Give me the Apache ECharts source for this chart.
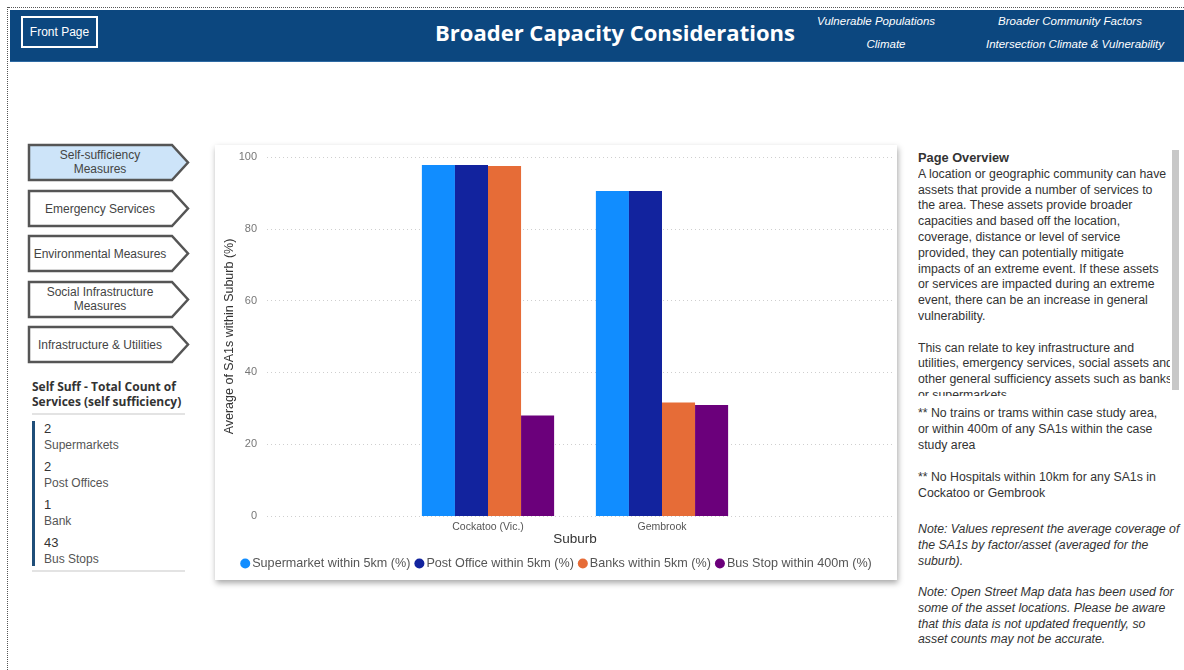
<!DOCTYPE html>
<html>
<head>
<meta charset="utf-8">
<script src="https://cdn.jsdelivr.net/npm/echarts@6/dist/echarts.min.js"></script>
<style>
  html, body { margin:0; padding:0; width:1184px; height:670px; overflow:hidden; background:#fff; font-family:"Liberation Sans", "Noto Sans", sans-serif; }
  .abs { position:absolute; }
  #frameTop { left:8px; top:7px; width:1176px; height:0; border-top:1px dotted #555; }
  #frameLeft { left:7px; top:7px; width:0; height:663px; border-left:1px dotted #555; }
  #header { left:10px; top:10px; width:1174px; height:51px; background:#0c477f; border-bottom:1px solid #2d6aa3; }
  #front { left:21px; top:16px; width:73px; height:28px; border:2px solid #fff; color:#fff; font-size:12px; line-height:28px; text-align:center; }
  #title { left:390px; top:17px; width:450px; text-align:center; color:#fff; font-size:22px; font-weight:bold; font-family:"Open Sans","Noto Sans",sans-serif; }
  .nav { color:#fff; font-size:11.5px; font-style:italic; text-align:center; white-space:nowrap; }
  #chartCard { left:215px; top:145px; width:682px; height:435px; background:#fff; box-shadow:1px 3px 6px rgba(0,0,0,0.35); }
  #chart { left:215px; top:145px; width:682px; height:435px; }
  .btnText { color:#444; font-size:12px; text-align:center; width:144px; left:28px; line-height:14px; }
  #ssTitle { left:32px; top:379px; color:#333; font-size:12px; font-weight:bold; font-family:"Open Sans","Noto Sans",sans-serif; line-height:15px; white-space:nowrap; }
  .rule { height:0; border-top:2px solid #e3e3e3; left:32px; width:153px; }
  #ssBar { left:32px; top:421px; width:3px; height:145px; background:#1f4e79; }
  .ssNum { left:44px; color:#333; font-size:13px; }
  .ssLbl { left:44px; color:#555; font-size:12px; }
  #overview { left:918px; top:150px; width:252px; height:246px; overflow:hidden; color:#333; font-size:12.3px; line-height:15.8px; white-space:nowrap; }
  #overview b { font-size:12.8px; }
  #scroll { left:1172px; top:150px; width:7px; height:240px; background:#c8c8c8; }
  .note { left:918px; color:#333; font-size:12.3px; line-height:15.8px; white-space:nowrap; }
  .it { font-style:italic; }
</style>
</head>
<body>
<div id="frameTop" class="abs"></div>
<div id="frameLeft" class="abs"></div>
<div id="header" class="abs"></div>
<div id="front" class="abs">Front Page</div>
<div id="title" class="abs">Broader Capacity Considerations</div>
<div class="abs nav" style="left:806px;top:15px;width:140px;">Vulnerable Populations</div>
<div class="abs nav" style="left:846px;top:38px;width:80px;">Climate</div>
<div class="abs nav" style="left:990px;top:15px;width:160px;">Broader Community Factors</div>
<div class="abs nav" style="left:975px;top:38px;width:200px;">Intersection Climate &amp; Vulnerability</div>

<svg class="abs" style="left:0;top:0;" width="200" height="370">
  <polygon points="29,145 172,145 188,162.5 172,180 29,180" fill="#cde4f9" stroke="#555" stroke-width="2.5"/>
  <polygon points="29,191 172,191 188,208.5 172,226 29,226" fill="#fff" stroke="#555" stroke-width="2.5"/>
  <polygon points="29,236 172,236 188,253.5 172,271 29,271" fill="#fff" stroke="#555" stroke-width="2.5"/>
  <polygon points="29,282 172,282 188,299.5 172,317 29,317" fill="#fff" stroke="#555" stroke-width="2.5"/>
  <polygon points="29,327 172,327 188,344.5 172,362 29,362" fill="#fff" stroke="#555" stroke-width="2.5"/>
</svg>
<div class="abs btnText" style="top:148px;">Self-sufficiency<br>Measures</div>
<div class="abs btnText" style="top:202px;">Emergency Services</div>
<div class="abs btnText" style="top:247px;">Environmental Measures</div>
<div class="abs btnText" style="top:285px;">Social Infrastructure<br>Measures</div>
<div class="abs btnText" style="top:338px;">Infrastructure &amp; Utilities</div>

<div id="ssTitle" class="abs">Self Suff - Total Count of<br>Services (self sufficiency)</div>
<div class="abs rule" style="top:413px;"></div>
<div id="ssBar" class="abs"></div>
<div class="abs ssNum" style="top:421px;">2</div>
<div class="abs ssLbl" style="top:438px;">Supermarkets</div>
<div class="abs ssNum" style="top:459px;">2</div>
<div class="abs ssLbl" style="top:476px;">Post Offices</div>
<div class="abs ssNum" style="top:497px;">1</div>
<div class="abs ssLbl" style="top:514px;">Bank</div>
<div class="abs ssNum" style="top:535px;">43</div>
<div class="abs ssLbl" style="top:552px;">Bus Stops</div>
<div class="abs rule" style="top:570px;"></div>

<div id="chartCard" class="abs"></div>
<div id="chart" class="abs"></div>

<div id="overview" class="abs"><b>Page Overview</b><br>A location or geographic community can have<br>assets that provide a number of services to<br>the area. These assets provide broader<br>capacities and based off the location,<br>coverage, distance or level of service<br>provided, they can potentially mitigate<br>impacts of an extreme event. If these assets<br>or services are impacted during an extreme<br>event, there can be an increase in general<br>vulnerability.<br><br>This can relate to key infrastructure and<br>utilities, emergency services, social assets and<br>other general sufficiency assets such as banks<br>or supermarkets.</div>
<div id="scroll" class="abs"></div>
<div class="abs note" style="top:406px;">** No trains or trams within case study area,<br>or within 400m of any SA1s within the case<br>study area</div>
<div class="abs note" style="top:470px;">** No Hospitals within 10km for any SA1s in<br>Cockatoo or Gembrook</div>
<div class="abs note it" style="top:522px;">Note: Values represent the average coverage of<br>the SA1s by factor/asset (averaged for the<br>suburb).</div>
<div class="abs note it" style="top:585px;">Note: Open Street Map data has been used for<br>some of the asset locations. Please be aware<br>that this data is not updated frequently, so<br>asset counts may not be accurate.</div>

<script>
const suburbs = ['Cockatoo (Vic.)', 'Gembrook'];
const supermarket = [97.8, 90.5];
const postOffice = [97.8, 90.5];
const banks = [97.5, 31.6];
const busStop = [28.0, 30.9];
const seriesNames = ['Supermarket within 5km (%)', 'Post Office within 5km (%)', 'Banks within 5km (%)', 'Bus Stop within 400m (%)'];
const seriesColors = ['#118dff', '#12239e', '#e66c37', '#6b007b'];
const yTicks = { min: 0, max: 100, interval: 20 };

const chart = echarts.init(document.getElementById('chart'));
const values = [supermarket, postOffice, banks, busStop];
const font = '"Liberation Sans", "Noto Sans", sans-serif';
chart.setOption({
  animation: false,
  textStyle: { fontFamily: font },
  grid: [
    { left: 50, right: 4, top: 12, bottom: 64 },
    { left: 186, width: 348, top: 12, bottom: 64 }
  ],
  legend: {
    bottom: 5, left: 'center', icon: 'circle', itemWidth: 10, itemHeight: 10, itemGap: 4,
    textStyle: { color: '#555', fontSize: 12.6, padding: [0, 0, 0, -3] },
    data: seriesNames
  },
  xAxis: [
    { gridIndex: 0, type: 'category', data: suburbs, show: false },
    { gridIndex: 1, type: 'category', data: suburbs,
      axisLine: { show: false }, axisTick: { show: false },
      axisLabel: { color: '#555', fontSize: 10.5, margin: 6 },
      name: 'Suburb', nameLocation: 'middle', nameGap: 16, nameMoveOverlap: false,
      nameTextStyle: { color: '#333', fontSize: 13.5 } }
  ],
  yAxis: [
    { gridIndex: 0, type: 'value', min: yTicks.min, max: yTicks.max, interval: yTicks.interval,
      axisLine: { show: false }, axisTick: { show: false },
      axisLabel: { color: '#777', fontSize: 11, margin: 10 },
      splitLine: { lineStyle: { color: '#cfcfcf', type: [1, 3] } },
      name: 'Average of SA1s within Suburb (%)', nameLocation: 'middle', nameGap: 31, nameRotate: 90, nameMoveOverlap: false,
      nameTextStyle: { color: '#333', fontSize: 12.5 } },
    { gridIndex: 1, type: 'value', min: yTicks.min, max: yTicks.max, show: false }
  ],
  series: values.map((v, i) => ({
    name: seriesNames[i], type: 'bar', xAxisIndex: 1, yAxisIndex: 1,
    data: v, barGap: 0, barCategoryGap: '24%',
    itemStyle: { color: seriesColors[i] }
  }))
});
</script>
</body>
</html>
